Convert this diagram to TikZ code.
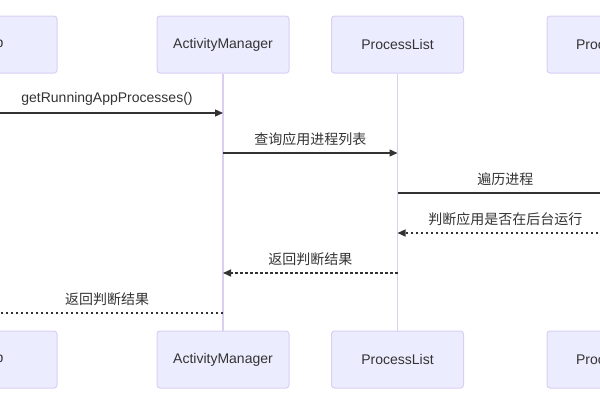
\documentclass[tikz,border=0pt]{standalone}
\usepackage{fontspec}
\setmainfont{Liberation Sans}
\newfontfamily\cjk{Noto Sans CJK SC}
\usepackage{xcolor}
\definecolor{ColBox}{RGB}{236,236,255}
\definecolor{ColBorder}{RGB}{218,206,243}
\definecolor{ColLine}{RGB}{51,51,51}
\usepackage{tikz}
\usetikzlibrary{arrows.meta}
\tikzstyle{Actor}=[rectangle,rounded corners=3pt,draw=ColBorder,fill=ColBox,
line width=1pt,minimum width=132pt,minimum height=57pt,inner sep=0pt,
font=\fontsize{14}{16}\selectfont,text=ColLine]
\tikzstyle{Life}=[draw=ColBorder,line width=1.6pt]
\tikzstyle{Msg}=[draw=ColLine,line width=1.3pt,-{Triangle[length=8pt,width=7pt]}]
\tikzstyle{Reply}=[Msg,dash pattern=on 2.5pt off 2.5pt]
\tikzstyle{MsgLabel}=[font=\fontsize{14}{16}\selectfont,text=ColLine,inner sep=0pt]

\begin{document}
\begin{tikzpicture}[x=1pt,y=-1pt]
        \useasboundingbox(0,0)rectangle(600,400);
        \clip(0,0)rectangle(600,400);
        % actors, top and bottom
        \node[Actor](App1)at(-9,44.5){App};
        \node[Actor](AM1)at(223,44.5){ActivityManager};
        \node[Actor](PL1)at(397.5,44.5){ProcessList};
        \node[Actor](P1)at(613,44.5){ProcessInfo};
        \node[Actor](App2)at(-9,359.5){App};
        \node[Actor](AM2)at(223,359.5){ActivityManager};
        \node[Actor](PL2)at(397.5,359.5){ProcessList};
        \node[Actor](P2)at(613,359.5){ProcessInfo};
        \draw[Life](App1)--(App2);
        \draw[Life](AM1)--(AM2);
        \draw[Life](PL1)--(PL2);
        \draw[Life](P1)--(P2);
        % message ends on the lifelines
        \coordinate(a1)at(-9,113);   \coordinate(m1)at(223,113);
        \coordinate(m2)at(223,153);  \coordinate(l2)at(397.5,153);
        \coordinate(l3)at(397.5,193);\coordinate(p3)at(613,193);
        \coordinate(p4)at(613,233);  \coordinate(l4)at(397.5,233);
        \coordinate(l5)at(397.5,273);\coordinate(m5)at(223,273);
        \coordinate(m6)at(223,313);  \coordinate(a6)at(-9,313);
        \draw[Msg](a1)--node[MsgLabel,above=7pt]{getRunningAppProcesses()}(m1);
        \draw[Msg](m2)--node[MsgLabel,above=7pt]{\cjk 查询应用进程列表}(l2);
        \draw[Msg](l3)--node[MsgLabel,above=7pt]{\cjk 遍历进程}(p3);
        \draw[Reply](p4)--node[MsgLabel,above=7pt]{\cjk 判断应用是否在后台运行}(l4);
        \draw[Reply](l5)--node[MsgLabel,above=7pt]{\cjk 返回判断结果}(m5);
        \draw[Reply](m6)--node[MsgLabel,above=7pt]{\cjk 返回判断结果}(a6);
    \end{tikzpicture}
\end{document}
